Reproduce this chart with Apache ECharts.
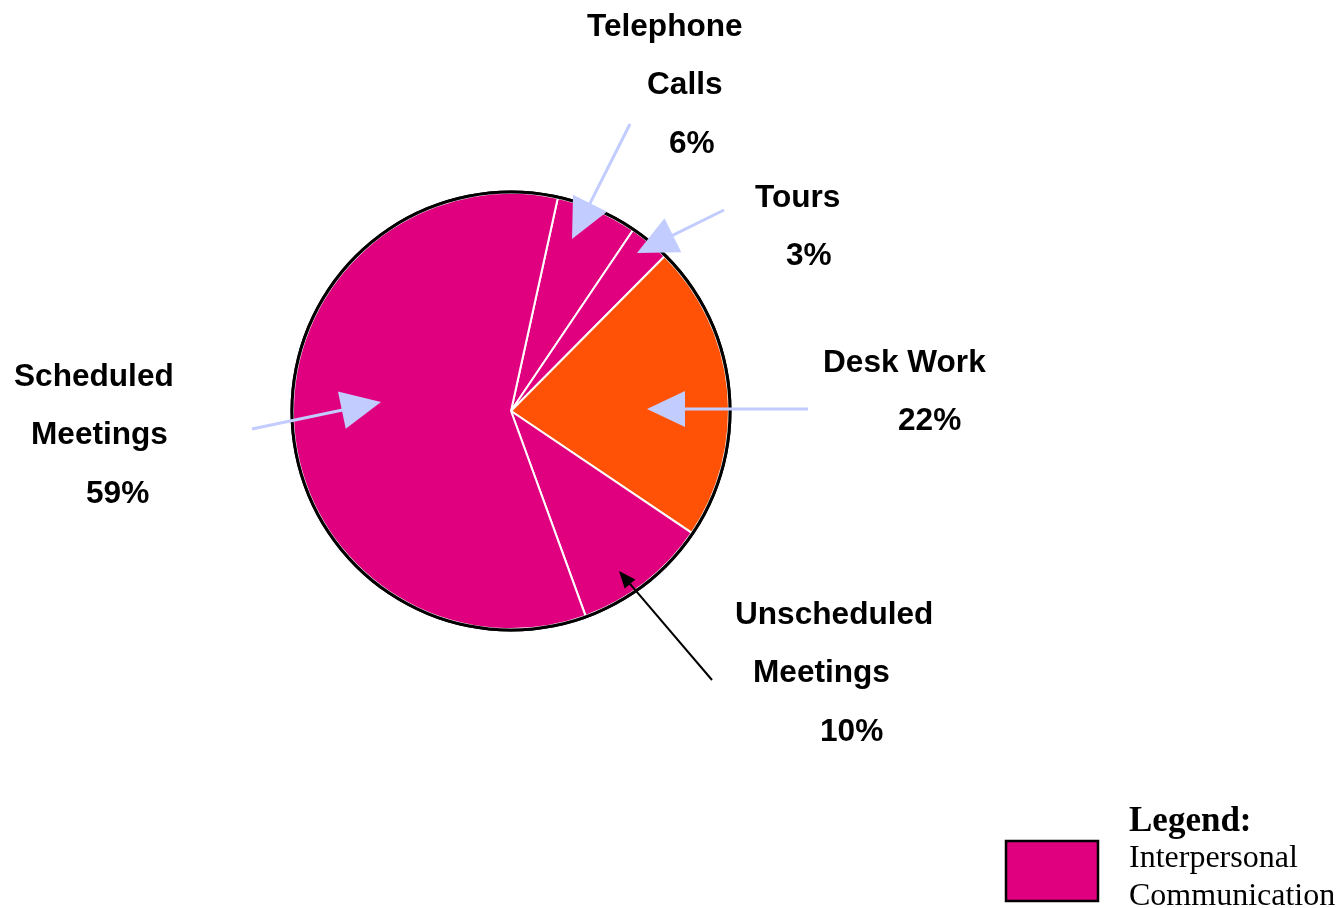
<!DOCTYPE html>
<html><head><meta charset="utf-8">
<script src="https://cdn.jsdelivr.net/npm/echarts@6/dist/echarts.min.js"></script>
<style>html,body{margin:0;padding:0;background:#fff}#c{width:1340px;height:908px}</style>
</head><body><div id="c"></div>
<script>
// ---- data ----
const categories = ['Telephone Calls', 'Tours', 'Desk Work', 'Unscheduled Meetings', 'Scheduled Meetings'];
const labelLines = [['Telephone', 'Calls'], ['Tours'], ['Desk Work'], ['Unscheduled', 'Meetings'], ['Scheduled', 'Meetings']];
const values = [6, 3, 22, 10, 59];
const groups = ['ip', 'ip', 'other', 'ip', 'ip']; // ip = Interpersonal Communication
const legendTitle = 'Legend:';
const legendLines = ['Interpersonal', 'Communication'];

// ---- styles / layout (annotation positions) ----
const COLORS = { ip: '#E0007F', other: '#FF5207' };
const CENTER = [511, 411], R = 218;
const labelPos = [ // left x of each line, middle y of first line
  { xs: [587, 647, 669], y: 24 },
  { xs: [755, 786], y: 195 },
  { xs: [823, 898], y: 360 },
  { xs: [735, 753, 820], y: 612 },
  { xs: [14, 31, 86], y: 374 }
];
const arrows = [ // tail -> tip
  { t: [630, 124], p: [572, 239], c: '#C2CCFF', w: 3, L: 40, h: 19 },
  { t: [724, 210], p: [637, 253], c: '#C2CCFF', w: 3, L: 40, h: 19 },
  { t: [808, 409], p: [647, 409], c: '#C2CCFF', w: 3, L: 38, h: 18 },
  { t: [712, 680], p: [619, 571], c: '#000000', w: 2, L: 17, h: 7 },
  { t: [252, 429], p: [381, 402], c: '#C2CCFF', w: 3, L: 40, h: 19 }
];
const LINE_H = 58.5;

const chart = echarts.init(document.getElementById('c'));
const graphics = [];
categories.forEach((c, i) => {
  const lines = labelLines[i].concat([values[i] + '%']);
  lines.forEach((txt, j) => {
    graphics.push({
      type: 'text', left: labelPos[i].xs[j], top: labelPos[i].y + j * LINE_H - 13,
      style: { text: txt, font: 'bold 31.6px "Liberation Sans", Arial, sans-serif', fill: '#000' }
    });
  });
});
arrows.forEach(a => {
  const dx = a.p[0] - a.t[0], dy = a.p[1] - a.t[1];
  const len = Math.hypot(dx, dy), ux = dx / len, uy = dy / len;
  const bx = a.p[0] - a.L * ux, by = a.p[1] - a.L * uy;
  graphics.push({ type: 'line', z: 10, shape: { x1: a.t[0], y1: a.t[1], x2: bx + ux * 2, y2: by + uy * 2 },
    style: { stroke: a.c, lineWidth: a.w } });
  graphics.push({ type: 'polygon', z: 10, shape: { points: [a.p, [bx - uy * a.h, by + ux * a.h], [bx + uy * a.h, by - ux * a.h]] },
    style: { fill: a.c } });
});
graphics.push({ type: 'rect', shape: { x: 1006, y: 841, width: 92, height: 60 },
  style: { fill: COLORS.ip, stroke: '#000', lineWidth: 2.5 } });
graphics.push({ type: 'text', left: 1129, top: 804, style: { text: legendTitle, font: 'bold 35px "Liberation Serif", "Times New Roman", serif', fill: '#000' } });
legendLines.forEach((t, j) => graphics.push({ type: 'text', left: 1129, top: 843 + j * 38,
  style: { text: t, font: '32px "Liberation Serif", "Times New Roman", serif', fill: '#000' } }));

chart.setOption({
  animation: false,
  backgroundColor: '#fff',
  series: [
    { type: 'pie', center: CENTER, radius: R + 2.5, silent: true, label: { show: false }, labelLine: { show: false },
      data: [{ value: 1, itemStyle: { color: '#000' } }] },
    { type: 'pie', center: CENTER, radius: R, startAngle: 77.6, clockwise: true, silent: true,
      label: { show: false }, labelLine: { show: false },
      itemStyle: { borderColor: '#fff', borderWidth: 2 },
      data: categories.map((c, i) => ({ name: c, value: values[i], itemStyle: { color: COLORS[groups[i]] } })) },
    { type: 'pie', center: CENTER, radius: [R - 0.5, R + 2.5], silent: true, label: { show: false }, labelLine: { show: false },
      data: [{ value: 1, itemStyle: { color: '#000' } }] }
  ],
  graphic: graphics
});
</script></body></html>
